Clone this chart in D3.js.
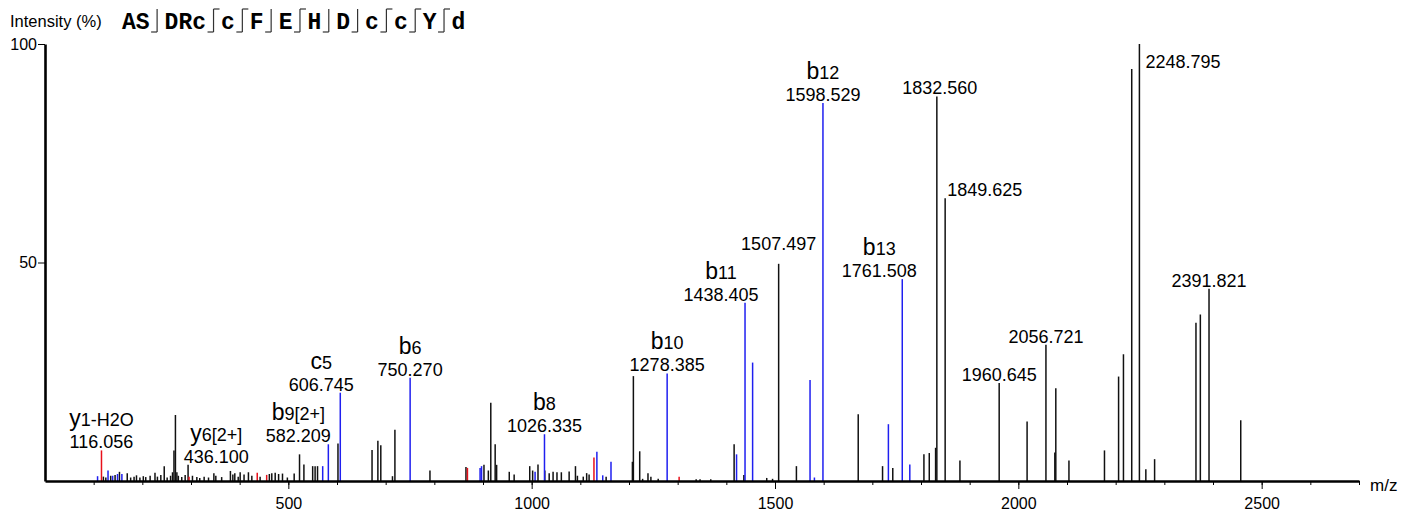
<!DOCTYPE html>
<meta charset="utf-8">
<script src="https://d3js.org/d3.v7.min.js"></script>
<style>
  body { margin: 0; background: #fff; }
  text { font-family: "Liberation Sans", Arial, sans-serif; }
</style>
<div id="chart"></div>
<script>
    // peptide sequence on top, split where fragment ions were found
    var seqGroups = ["AS", "DRc", "c", "F", "E", "H", "D", "c", "c", "Y", "d"];
    // gap after group i has a top (y-ion) hook too
    var topHooks = [false, true, true, false, true, false, false, true, true, true];

    // [m/z, relative intensity %]
    var blackPeaks = [
      [120,1.0],[125,0.8],[135,1.2],[144,1.4],[153,2.1],[169,1.8],[176,0.8],[183,1.0],[188,1.3],[195,0.8],
      [202,1.1],[207,0.9],[216,1.2],[226,1.9],[231,1.0],[238,1.4],[245,3.4],[251,0.8],[258,1.2],[262,2.0],
      [265,7.0],[268,15.1],[271,2.0],[274,1.2],[281,0.9],[288,1.4],[294,3.7],[303,1.2],[312,0.9],[318,0.7],
      [327,1.0],[336,0.8],[347,1.8],[351,1.2],[363,0.9],[381,2.3],[386,1.5],[390,1.8],[397,1.0],[401,2.0],
      [409,1.5],[418,2.0],[425,1.2],[442,1.0],[461,1.6],[466,1.8],[473,1.9],[480,1.6],[488,1.7],[498,0.8],
      [512,1.7],[523,6.1],[532,3.8],[550,3.4],[555,3.4],[560,3.4],[602,8.6],[672,7.1],[684,9.2],[690,8.2],
      [714,1.1],[719,11.7],[791,2.4],[865,3.2],[902,3.7],[911,2.4],[916,17.9],[925,8.4],[928,3.7],[954,2.1],
      [964,1.5],[996,3.4],[1002,2.4],[1013,3.8],[1027,2.4],[1036,1.8],[1044,2.1],[1052,2.0],[1061,2.0],[1077,2.2],
      [1090,3.4],[1094,1.2],[1106,1.0],[1113,1.8],[1118,1.5],[1153,1.0],[1207,4.4],[1209,24.0],[1222,6.8],[1228,0.5],
      [1239,1.8],[1245,1.0],[1260,0.5],[1338,0.4],[1346,0.4],[1368,0.4],[1416,8.4],[1436,1.4],[1483,0.7],[1495,0.5],
      [1507.497,49.7],[1544,3.4],[1671,15.3],[1721,3.4],[1742,3.0],[1806,6.1],[1817,6.4],[1830,7.6],[1832.560,88.0],
      [1849.625,64.7],[1880,4.7],[1960.645,22.4],[2018,13.6],[2056.721,31.2],[2075,6.5],[2077,21.2],[2104,4.7],
      [2177,7.0],[2206,23.9],[2216,29.0],[2233,94.3],[2248.795,100],[2262,2.7],[2280,5.0],[2365,36.2],[2374,38.1],
      [2391.821,44.0],[2457,13.9]
    ];
    var bluePeaks = [
      [108,1.1],[129.5,2.4],[139,1.2],[149,1.6],[158,1.6],[570.6,3.4],[582.209,8.4],[606.745,20.2],[750.270,23.6],
      [894,3.0],[897,3.4],[1007,2.1],[1026.335,10.7],[1134,6.7],[1146,1.3],[1163,4.4],[1278.385,24.6],[1421,6.1],
      [1438.405,40.8],[1454,27.1],[1572,23.1],[1581,0.8],[1598.529,86.5],[1733,13.0],[1761.508,46.2],[1777,3.8]
    ];
    var redPeaks = [
      [116.056,7.0],[296,1.0],[436.100,1.9],[455.5,1.4],[868,3.0],[1128,5.4],[1303,1.0]
    ];

    // annotated peaks: m/z, intensity, ion name, ion index/charge
    var labelMz   = [116.056, 436.100, 582.209, 606.745, 750.270, 1026.335, 1278.385, 1438.405, 1507.497,
                     1598.529, 1761.508, 1832.560, 1849.625, 1960.645, 2056.721, 2248.795, 2391.821];
    var labelInt  = [7.0, 1.9, 8.4, 20.2, 23.6, 10.7, 24.6, 40.8, 49.7, 86.5, 46.2, 88.0, 64.7, 22.4, 31.2, 100, 44.0];
    var labelIon  = ["y", "y", "b", "c", "b", "b", "b", "b", "", "b", "b", "", "", "", "", "", ""];
    var labelSub  = ["1-H2O", "6[2+]", "9[2+]", "5", "6", "8", "10", "11", "", "12", "13", "", "", "", "", "", ""];

    var xMajor = [500, 1000, 1500, 2000, 2500];
    var yTicks = [50, 100];

    // label nudges (pixels) so the texts do not collide
    var nudge = {
      "436.100": [-41, -8], "582.209": [-30, 0], "606.745": [-19, 0], "1438.405": [-24, 0],
      "1507.497": [0, -12], "1761.508": [-23, 0], "1832.560": [3, 0]
    };
    var rightSide = { "1849.625": [2, 0], "2248.795": [6, 26] };

    var svg = d3.select("#chart")
      .append("svg")
        .attr("width", 1416)
        .attr("height", 515);

    var x = d3.scaleLinear().domain([0, 2700]).range([45, 1359]);
    var y = d3.scaleLinear().domain([0, 100]).range([481, 44]);

    // header
    svg.append("text")
      .attr("x", 10).attr("y", 27)
      .style("font-size", "16.5px")
      .text("Intensity (%)");

    var seq = svg.append("g").attr("transform", "translate(122,29)");
    var cx = 0;
    seqGroups.forEach(function(s, i) {
      var t = seq.append("text")
        .attr("x", cx).attr("y", 0)
        .style("font-family", "'Liberation Mono', 'Courier New', monospace")
        .style("font-weight", "bold")
        .style("font-size", "23px")
        .text(s);
      cx += t.node().getComputedTextLength();
      if (i < seqGroups.length - 1) {
        var vx = cx + 7.5;
        seq.append("line").attr("x1", vx).attr("x2", vx).attr("y1", -20).attr("y2", 3)
          .attr("stroke", "#333").attr("stroke-width", 1.2);
        seq.append("line").attr("x1", vx - 6).attr("x2", vx).attr("y1", 3).attr("y2", 3)
          .attr("stroke", "#333").attr("stroke-width", 1.2);
        if (topHooks[i]) {
          seq.append("line").attr("x1", vx).attr("x2", vx + 6).attr("y1", -20).attr("y2", -20)
            .attr("stroke", "#333").attr("stroke-width", 1.2);
        }
        cx += 15;
      }
    });

    // peaks
    function drawPeaks(data, color) {
      svg.append("g")
        .selectAll("line")
        .data(data)
        .join("line")
          .attr("x1", function(d) { return x(d[0]); })
          .attr("x2", function(d) { return x(d[0]); })
          .attr("y1", y(0))
          .attr("y2", function(d) { return y(d[1]); })
          .attr("stroke", color)
          .attr("stroke-width", 1.5);
    }
    drawPeaks(blackPeaks, "#111");
    drawPeaks(redPeaks, "#e8101a");
    drawPeaks(bluePeaks, "#1f1ff0");

    // minor x ticks every 100
    svg.append("g")
      .attr("transform", "translate(0," + y(0) + ")")
      .call(d3.axisBottom(x).tickValues(d3.range(100, 2701, 100)).tickSize(4).tickFormat(""))
      .call(function(g) { g.select(".domain").remove(); });

    // X axis
    var xAxis = svg.append("g")
      .attr("transform", "translate(0," + y(0) + ")")
      .call(d3.axisBottom(x).tickValues(xMajor).tickSize(8).tickSizeOuter(0).tickPadding(9)
        .tickFormat(d3.format("d")));
    xAxis.select(".domain").attr("stroke-width", 2.6);
    xAxis.selectAll("text").style("font-size", "16px").attr("font-family", null);

    // Y axis
    var yAxis = svg.append("g")
      .attr("transform", "translate(" + x(0) + ",0)")
      .call(d3.axisLeft(y).tickValues(yTicks).tickSize(7).tickSizeOuter(0).tickPadding(1));
    yAxis.select(".domain").attr("stroke-width", 2.6);
    yAxis.selectAll("text").style("font-size", "16px").attr("font-family", null);

    svg.append("text")
      .attr("x", 1370).attr("y", 491)
      .style("font-size", "17px")
      .text("m/z");

    // peak annotations
    labelMz.forEach(function(mz, i) {
      var txt = mz.toFixed(3);
      var px = x(mz), py = y(labelInt[i]);
      if (rightSide[txt]) {
        svg.append("text")
          .attr("x", px + rightSide[txt][0])
          .attr("y", py - 2 + rightSide[txt][1])
          .style("font-size", "18px")
          .text(txt);
        return;
      }
      var n = nudge[txt] || [0, 0];
      var lx = px + n[0], ly = py - 2 + n[1];
      svg.append("text")
        .attr("x", lx).attr("y", ly)
        .attr("text-anchor", "middle")
        .style("font-size", "18px")
        .text(txt);
      if (labelIon[i]) {
        var t = svg.append("text")
          .attr("x", lx).attr("y", ly - 22)
          .attr("text-anchor", "middle");
        t.append("tspan").style("font-size", "23px").text(labelIon[i]);
        t.append("tspan").style("font-size", "18px").text(labelSub[i]);
      }
    });
</script>
